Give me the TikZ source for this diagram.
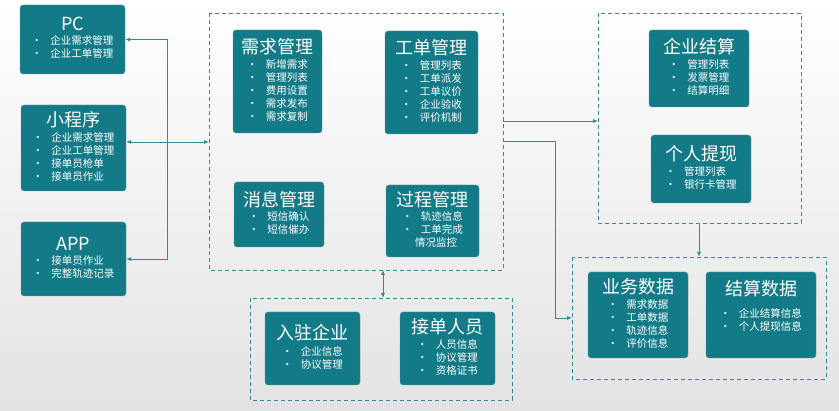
\documentclass[tikz,border=0pt]{standalone}
\usepackage{fontspec}
\setmainfont{Noto Sans CJK SC}
\usetikzlibrary{positioning,arrows.meta}
\definecolor{boxteal}{HTML}{137A87}
\definecolor{dashc}{HTML}{2E8A96}
\newcommand{\bul}[1]{\textbullet\hspace{0.8em}#1}

\begin{document}
\begin{tikzpicture}[x=1pt,y=-1pt]
\tikzstyle{every node}=[font=\fontsize{10.5}{13}\selectfont, text=white]
\tikzset{
modbox/.style={fill=boxteal, draw=boxteal!70!black!60, rounded corners=3pt, inner sep=2pt, align=center},
group/.style={draw=dashc, thick, dash pattern=on 4pt off 3pt},
link/.style={draw=dashc, thick, -{Latex[length=5pt,width=4pt]}},
}
\shade[top color=white, bottom color=black!11] (0,0) rectangle (839,411);
\useasboundingbox (0,0) rectangle (839,411);

% dashed groups
\draw[group] (209,13) rectangle (503,270);
\draw[group] (598,13) rectangle (801,223);
\draw[group] (572,257) rectangle (826,379);
\draw[group] (250,298) rectangle (512,400);
\coordinate (core) at (209,142);
\coordinate (corebot) at (383,270);
\coordinate (biztop) at (383,298);
\coordinate (coreout1) at (503,121);
\coordinate (coreout2) at (503,141);
\coordinate (settle) at (598,121);
\coordinate (settlebot) at (699,223);
\coordinate (data) at (699,257);
\coordinate (dataleft) at (572,318);
\coordinate (bus) at (167,142);

% clients
\node[modbox, minimum width=105pt, minimum height=69pt] (pc) at (72.5,39.5) {%
{\fontsize{18}{21}\selectfont PC}\\[4pt]
\begin{tabular}{@{}l@{}}\bul{企业需求管理}\\ \bul{企业工单管理}\end{tabular}};
\node[modbox, minimum width=105pt, minimum height=86pt] (mini) at (73.5,148) {%
{\fontsize{18}{21}\selectfont 小程序}\\[3pt]
\begin{tabular}{@{}l@{}}\bul{企业需求管理}\\ \bul{企业工单管理}\\ \bul{接单员枪单}\\ \bul{接单员作业}\end{tabular}};
\node[modbox, minimum width=105pt, minimum height=74pt] (app) at (73.5,259) {%
{\fontsize{18}{21}\selectfont APP}\\[4pt]
\begin{tabular}{@{}l@{}}\bul{接单员作业}\\ \bul{完整轨迹记录}\end{tabular}};

% core modules
\node[modbox, minimum width=89pt, minimum height=103pt] (xq) at (277.5,81.5) {%
{\fontsize{18}{21}\selectfont 需求管理}\\[3pt]
\begin{tabular}{@{}l@{}}\bul{新增需求}\\ \bul{管理列表}\\ \bul{费用设置}\\ \bul{需求发布}\\ \bul{需求复制}\end{tabular}};
\node[modbox, minimum width=93pt, minimum height=103pt] (gd) at (431.5,82.5) {%
{\fontsize{18}{21}\selectfont 工单管理}\\[3pt]
\begin{tabular}{@{}l@{}}\bul{管理列表}\\ \bul{工单派发}\\ \bul{工单议价}\\ \bul{企业验收}\\ \bul{评价机制}\end{tabular}};
\node[modbox, minimum width=90pt, minimum height=65pt] (xx) at (279,214.5) {%
{\fontsize{18}{21}\selectfont 消息管理}\\[3pt]
\begin{tabular}{@{}l@{}}\bul{短信确认}\\ \bul{短信催办}\end{tabular}};
\node[modbox, minimum width=93pt, minimum height=72pt] (gc) at (432.5,221) {%
{\fontsize{18}{21}\selectfont 过程管理}\\[3pt]
\begin{tabular}{@{}l@{}}\bul{轨迹信息}\\ \bul{工单完成}\\ \hspace{1.25em}情况监控\end{tabular}};

% settlement
\node[modbox, minimum width=100pt, minimum height=77pt] (qyjs) at (699,68.5) {%
{\fontsize{18}{21}\selectfont 企业结算}\\[3pt]
\begin{tabular}{@{}l@{}}\bul{管理列表}\\ \bul{发票管理}\\ \bul{结算明细}\end{tabular}};
\node[modbox, minimum width=100pt, minimum height=68pt] (grtx) at (701,169) {%
{\fontsize{18}{21}\selectfont 个人提现}\\[3pt]
\begin{tabular}{@{}l@{}}\bul{管理列表}\\ \bul{银行卡管理}\end{tabular}};

% data
\node[modbox, minimum width=100pt, minimum height=86pt] (ywsj) at (638,315) {%
{\fontsize{18}{21}\selectfont 业务数据}\\[3pt]
\begin{tabular}{@{}l@{}}\bul{需求数据}\\ \bul{工单数据}\\ \bul{轨迹信息}\\ \bul{评价信息}\end{tabular}};
\node[modbox, minimum width=110pt, minimum height=86pt] (jssj) at (761,315) {%
{\fontsize{18}{21}\selectfont 结算数据}\\[10pt]
\begin{tabular}{@{}l@{}}\bul{企业结算信息}\\ \bul{个人提现信息}\end{tabular}\\[12pt]};

% parties
\node[modbox, minimum width=95pt, minimum height=73pt] (rzqy) at (312.5,348.5) {%
{\fontsize{18}{21}\selectfont 入驻企业}\\[4pt]
\begin{tabular}{@{}l@{}}\bul{企业信息}\\ \bul{协议管理}\end{tabular}};
\node[modbox, minimum width=95pt, minimum height=73pt] (jdry) at (447.5,348.5) {%
{\fontsize{18}{21}\selectfont 接单人员}\\[3pt]
\begin{tabular}{@{}l@{}}\bul{人员信息}\\ \bul{协议管理}\\ \bul{资格证书}\end{tabular}};

% connectors
\draw[link] (bus) |- (pc.east);
\draw[link] (bus) |- (app.east);
\draw[link] (bus) -- (mini.east |- bus);
\draw[link] (bus) -- (core);
\draw[link, {Latex[length=5pt,width=4pt]}-{Latex[length=5pt,width=4pt]}] (corebot) -- (biztop);
\draw[link] (coreout1) -- (settle);
\draw[link] (coreout2) -| ([xshift=-17pt]dataleft) -- (dataleft);
\draw[link] (settlebot) -- (data);
\end{tikzpicture}
\end{document}
